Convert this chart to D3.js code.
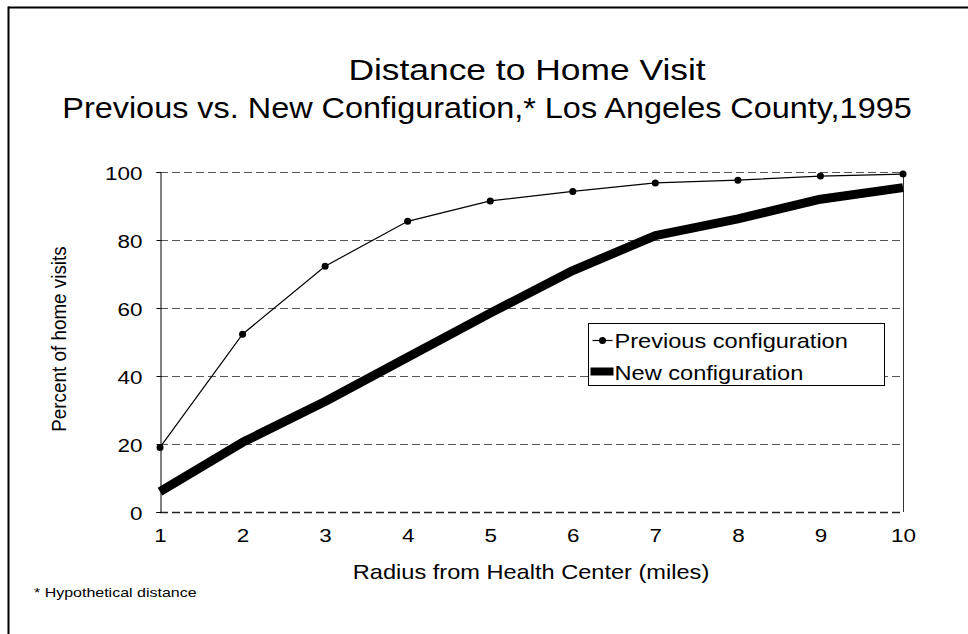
<!DOCTYPE html>
<html>
<head>
<meta charset="utf-8">
<script src="https://cdn.jsdelivr.net/npm/d3@7"></script>
<style>
  html, body { margin: 0; padding: 0; background: #fff; }
  svg { display: block; font-family: "Liberation Sans", Arial, sans-serif; }
</style>
</head>
<body>
<svg id="chart" width="968" height="634" viewBox="0 0 968 634"></svg>
<script>
// data
const radius = [1, 2, 3, 4, 5, 6, 7, 8, 9, 10];
const previousConfig = [19, 52.3, 72.3, 85.5, 91.5, 94.3, 96.8, 97.6, 98.8, 99.4];
const newConfig = [6, 20.5, 32.5, 45.5, 58.5, 71, 81.3, 86.2, 92, 95.4];
const yTicks = [0, 20, 40, 60, 80, 100];
const titleLines = [
  "Distance to Home Visit",
  "Previous vs. New Configuration,* Los Angeles County,1995",
];
const seriesNames = ["Previous configuration", "New configuration"];

const svg = d3.select("#chart");
const plot = { left: 160, right: 903, top: 172, bottom: 512 };

const x = d3.scaleLinear().domain([1, 10]).range([plot.left, plot.right]);
const y = d3.scaleLinear().domain([0, 100]).range([plot.bottom, plot.top]);

// text is a little wider than the font, like the original
const SX = 1.18;
function label(parent, text, px, py, size, anchor, sx = SX) {
  return parent
    .append("text")
    .attr("transform", `translate(${px},${py}) scale(${sx},1)`)
    .attr("text-anchor", anchor)
    .attr("font-size", size)
    .attr("fill", "#000")
    .text(text);
}

// outer frame (only top and left edges show)
svg.append("line").attr("x1", 8).attr("x2", 968).attr("y1", 7.5).attr("y2", 7.5)
  .attr("stroke", "#000").attr("stroke-width", 2);
svg.append("line").attr("x1", 8.5).attr("x2", 8.5).attr("y1", 6.5).attr("y2", 634)
  .attr("stroke", "#000").attr("stroke-width", 2);

// titles
label(svg, titleLines[0], 527, 80, 30, "middle");
label(svg, titleLines[1], 487, 118, 30, "middle", 1.08);

// gridlines
svg.append("g")
  .selectAll("line")
  .data(yTicks)
  .join("line")
  .attr("x1", plot.left)
  .attr("x2", plot.right)
  .attr("y1", (d) => Math.round(y(d)) + 0.5)
  .attr("y2", (d) => Math.round(y(d)) + 0.5)
  .attr("stroke", (d) => (d === 0 ? "#222" : "#555"))
  .attr("stroke-width", (d) => (d === 0 ? 1.5 : 1))
  .attr("stroke-dasharray", "8,4");

// right border of plot
svg.append("line")
  .attr("x1", plot.right + 0.5).attr("x2", plot.right + 0.5)
  .attr("y1", plot.top).attr("y2", plot.bottom)
  .attr("stroke", "#333").attr("stroke-width", 1);

// y axis
const yAxis = svg.append("g")
  .attr("transform", `translate(${plot.left + 0.5},0)`)
  .call(d3.axisLeft(y).tickValues(yTicks).tickSize(4).tickFormat(d3.format("d")));
yAxis.select(".domain").attr("stroke", "#000");
yAxis.selectAll(".tick line").attr("stroke", "#000");
yAxis.selectAll(".tick text").remove();
yAxis.selectAll(".tick").each(function (d) {
  label(d3.select(this), d, -18, 7, 19, "end");
});

// x tick labels
const xAxis = svg.append("g")
  .attr("transform", `translate(0,${plot.bottom})`)
  .call(d3.axisBottom(x).tickValues(radius).tickSize(0).tickFormat(d3.format("d")));
xAxis.select(".domain").remove();
xAxis.selectAll(".tick text").remove();
xAxis.selectAll(".tick").each(function (d) {
  label(d3.select(this), d, 0, 30, 19, "middle");
});

// axis titles
label(svg, "Radius from Health Center (miles)", 531, 579, 20, "middle");
svg.append("text")
  .attr("transform", "translate(66,339) rotate(-90) scale(0.92,1)")
  .attr("text-anchor", "middle")
  .attr("font-size", 20.5)
  .text("Percent of home visits");

// footnote
label(svg, "* Hypothetical distance", 34, 597, 13, "start", 1.23);

// series
const lineGen = d3.line().x((d, i) => x(radius[i])).y((d) => y(d));

svg.append("path")
  .datum(newConfig)
  .attr("d", lineGen)
  .attr("fill", "none")
  .attr("stroke", "#000")
  .attr("stroke-width", 9)
  .attr("stroke-linejoin", "round");

svg.append("path")
  .datum(previousConfig)
  .attr("d", lineGen)
  .attr("fill", "none")
  .attr("stroke", "#000")
  .attr("stroke-width", 1.2);

svg.append("g")
  .selectAll("circle")
  .data(previousConfig)
  .join("circle")
  .attr("cx", (d, i) => x(radius[i]))
  .attr("cy", (d) => y(d))
  .attr("r", 3.5)
  .attr("fill", "#000");

// legend
const legend = svg.append("g").attr("transform", "translate(588.5,323.5)");
legend.append("rect")
  .attr("width", 296).attr("height", 62)
  .attr("fill", "#fff").attr("stroke", "#000").attr("stroke-width", 1);

legend.append("line").attr("x1", 4).attr("x2", 24).attr("y1", 17).attr("y2", 17)
  .attr("stroke", "#000").attr("stroke-width", 1.2);
legend.append("circle").attr("cx", 14).attr("cy", 17).attr("r", 3.5).attr("fill", "#000");
label(legend, seriesNames[0], 26, 24, 20, "start");

legend.append("line").attr("x1", 2).attr("x2", 25).attr("y1", 48).attr("y2", 48)
  .attr("stroke", "#000").attr("stroke-width", 8);
label(legend, seriesNames[1], 26, 56, 20, "start");
</script>
</body>
</html>
